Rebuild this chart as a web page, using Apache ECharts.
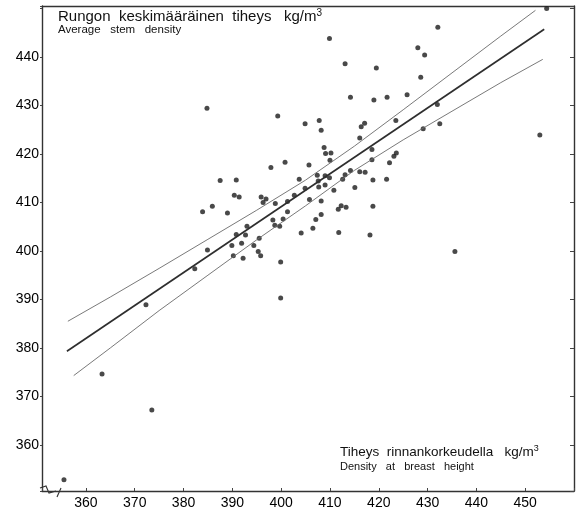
<!DOCTYPE html>
<html lang="fi">
<head>
<meta charset="UTF-8">
<title>Rungon keskimääräinen tiheys</title>
<script src="https://cdn.jsdelivr.net/npm/echarts@6/dist/echarts.min.js"></script>
<style>
    html, body { margin: 0; height: 100%; background: #fff; }
    #main { width: 577px; height: 510px; }
</style>
</head>
<body>
<div id="main"></div>
<script>
    // tiheys rinnankorkeudella (x) ja rungon keskimääräinen tiheys (y), kg/m3
    var breastDensity = [355.5, 363.3, 373.5, 372.3, 382.3, 384.9, 383.9, 385.9, 387.5, 389.0,
        390.8, 390.4, 391.4, 384.8, 399.3, 397.9, 400.8, 395.9, 396.9, 396.3,
        398.8, 401.3, 401.3, 393.0, 390.8, 392.7, 389.9, 391.9, 394.4, 395.5,
        390.2, 392.2, 395.3, 395.8, 398.3, 398.7, 399.7, 400.4, 399.9, 399.9,
        402.7, 403.7, 404.9, 405.8, 404.1, 406.5, 407.1, 408.2, 408.2, 407.4,
        409.0, 409.9, 407.6, 407.7, 409.0, 410.8, 412.6, 413.1, 414.2, 416.1,
        417.2, 415.1, 412.3, 411.7, 413.3, 411.8, 418.2, 418.8, 418.8, 421.6,
        422.2, 423.1, 423.6, 418.6, 418.6, 416.1, 416.4, 417.1, 423.5, 429.1,
        432.5, 432.0, 428.6, 428.0, 429.4, 432.1, 454.4, 453.0, 435.6, 425.8,
        421.7, 419.0, 414.2, 419.5, 413.1, 409.9, 404.9, 407.8, 408.2, 408.8,
        409.1, 410.2, 410.0, 405.7];
    var stemDensity = [352.8, 374.6, 367.2, 388.9, 396.3, 400.2, 408.1, 409.2, 414.5, 407.8,
        414.6, 411.5, 411.1, 429.4, 427.8, 417.2, 418.3, 411.1, 410.7, 410.0,
        409.8, 410.2, 408.1, 405.1, 403.4, 403.3, 401.1, 401.6, 401.1, 402.6,
        399.0, 398.5, 399.9, 399.0, 406.4, 405.3, 405.1, 406.6, 397.7, 390.3,
        411.5, 414.8, 412.9, 410.6, 403.7, 404.7, 406.5, 407.5, 410.3, 415.6,
        415.5, 415.1, 414.4, 413.2, 413.6, 412.5, 414.8, 415.7, 416.6, 416.3,
        416.2, 413.1, 409.3, 408.6, 409.0, 403.8, 403.3, 409.2, 414.6, 414.8,
        418.2, 419.5, 420.2, 418.8, 420.9, 423.3, 425.6, 426.3, 426.9, 425.2,
        426.2, 430.2, 435.8, 441.9, 440.4, 446.1, 450.0, 423.9, 399.9, 432.2,
        431.7, 431.1, 431.7, 437.7, 438.6, 443.8, 426.2, 426.9, 424.9, 421.3,
        420.1, 420.2, 418.7, 417.7];

    // regressiosuora ja luottamusrajat
    var fitX = [356.1, 453.9];
    var fitY = [379.3, 445.7];
    var upperX = [356.3, 365, 375, 385, 395, 405, 415, 425, 435, 445, 452.1];
    var upperY = [385.5, 390.5, 396.4, 402.4, 408.4, 414.6, 421.6, 429.1, 436.7, 444.3, 449.6];
    var lowerX = [357.5, 365, 375, 385, 395, 405, 415, 425, 435, 445, 453.6];
    var lowerY = [374.3, 380.0, 387.7, 395.0, 402.3, 409.3, 416.6, 422.9, 428.8, 434.7, 439.5];

    // akselien näkyvät tikkiarvot
    var xTicks = [360, 370, 380, 390, 400, 410, 420, 430, 440, 450];
    var yTicks = [360, 370, 380, 390, 400, 410, 420, 430, 440];

    function zip(a, b) {
        var out = [];
        for (var i = 0; i < a.length; i++) out.push([a[i], b[i]]);
        return out;
    }

    function only(list) {
        return function (v) { return list.indexOf(v) >= 0 ? String(v) : ''; };
    }

    var fam = 'Liberation Sans, Arial, sans-serif';
    var labelFont = { color: '#000', fontSize: 14, fontFamily: fam };
    var frame = { lineStyle: { color: '#333', width: 1.4 } };

    var myChart = echarts.init(document.getElementById('main'));

    var option = {
        backgroundColor: '#ffffff',
        animation: false,
        grid: { left: 42, right: 2, top: 6, bottom: 17 },
        xAxis: [{
            type: 'value', min: 351, max: 460, splitNumber: 11,
            axisLine: frame,
            axisTick: { inside: true, length: 3, lineStyle: { color: '#444' } },
            axisLabel: Object.assign({ formatter: only(xTicks), margin: 5 }, labelFont),
            splitLine: { show: false }
        }, {
            type: 'value', position: 'top', min: 351, max: 460,
            axisLine: frame, axisTick: { show: false }, axisLabel: { show: false },
            splitLine: { show: false }
        }],
        yAxis: [{
            type: 'value', min: 350.5, max: 450.5, splitNumber: 10,
            axisLine: frame,
            axisTick: { length: 2, lineStyle: { color: '#444' } },
            axisLabel: Object.assign({ formatter: only(yTicks), margin: 3 }, labelFont),
            splitLine: { show: false }
        }, {
            type: 'value', position: 'right', min: 350.5, max: 450.5, splitNumber: 10,
            axisLine: frame,
            axisTick: { inside: true, length: 4, lineStyle: { color: '#444' } },
            axisLabel: { show: false },
            splitLine: { show: false }
        }],
        series: [{
            type: 'line', data: zip(upperX, upperY), symbol: 'none',
            lineStyle: { color: '#6a6a6a', width: 0.9 }
        }, {
            type: 'line', data: zip(lowerX, lowerY), symbol: 'none',
            lineStyle: { color: '#6a6a6a', width: 0.9 }
        }, {
            type: 'line', data: zip(fitX, fitY), symbol: 'none',
            lineStyle: { color: '#2e2e2e', width: 1.7 }
        }, {
            type: 'scatter', data: zip(breastDensity, stemDensity),
            symbolSize: 5, clip: false,
            itemStyle: { color: '#1c1c1c' }
        }],
        graphic: [{
            type: 'text', left: 58, top: 8,
            style: {
                text: '{a|Rungon  keskimääräinen  tiheys   kg/m}{s|3}',
                rich: {
                    a: { fontSize: 15, fill: '#111', fontFamily: fam },
                    s: { fontSize: 10, fill: '#111', fontFamily: fam, verticalAlign: 'top', padding: [0, 0, 7, 0] }
                }
            }
        }, {
            type: 'text', left: 58, top: 24,
            style: { text: 'Average   stem   density', fontSize: 11.5, fill: '#111', fontFamily: fam }
        }, {
            type: 'text', left: 340, top: 444,
            style: {
                text: '{a|Tiheys  rinnankorkeudella   kg/m}{s|3}',
                rich: {
                    a: { fontSize: 13.5, fill: '#111', fontFamily: fam },
                    s: { fontSize: 9, fill: '#111', fontFamily: fam, verticalAlign: 'top', padding: [0, 0, 7, 0] }
                }
            }
        }, {
            type: 'text', left: 340, top: 461,
            style: { text: 'Density   at   breast   height', fontSize: 11, fill: '#111', fontFamily: fam }
        }, {
            // katkomerkki akselien kulmassa
            type: 'polyline', shape: { points: [[40, 488], [46, 486], [49, 493], [56, 491]] },
            style: { stroke: '#333', lineWidth: 1.1, fill: 'none' }
        }, {
            type: 'line', shape: { x1: 57, y1: 497, x2: 61, y2: 488 },
            style: { stroke: '#333', lineWidth: 1.1 }
        }]
    };

    myChart.setOption(option);
</script>
</body>
</html>
